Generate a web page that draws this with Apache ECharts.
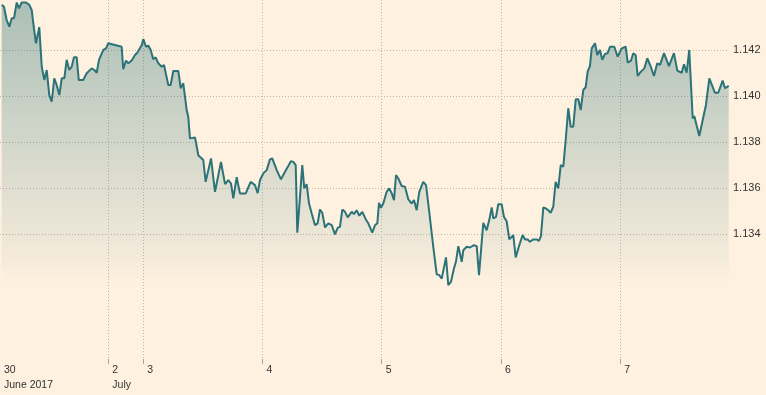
<!DOCTYPE html>
<html>
<head>
<meta charset="utf-8">
<script src="https://cdn.jsdelivr.net/npm/echarts@6/dist/echarts.min.js"></script>
<style>
html,body{margin:0;padding:0;background:#fff1e0;}
#chart{width:766px;height:395px;}
</style>
</head>
<body>
<div id="chart"></div>
<script>
// time in 12-minute steps since 30 June 2017 00:00 (weekend removed)
const times = [
1.7,4.0,6.7,9.4,11.8,14.1,16.8,19.1,21.8,23.4,26.2,29.5,31.9,33.5,36.2,39.5,42.0,44.6,47.0,49.6,
52.0,54.6,57.0,59.7,62.1,64.7,67.1,69.7,72.1,74.4,77.2,79.2,83.8,87.2,88.8,92.2,94.9,97.3,99.6,103.9,
106.6,109.0,122.4,124.0,126.8,129.1,132.5,135.8,138.1,140.1,142.6,144.2,146.9,149.2,151.6,154.2,156.6,159.3,162.7,165.0,
169.3,171.7,174.3,179.4,181.8,184.4,187.8,189.4,191.1,196.2,199.5,204.5,206.9,212.3,216.3,222.3,226.4,229.7,232.4,234.7,
238.1,241.4,247.2,252.2,256.5,259.2,261.6,264.9,268.3,271.6,273.9,278.4,282.7,286.7,290.0,292.7,295.1,297.5,299.1,301.8,
304.1,306.1,308.5,310.9,313.6,316.9,319.6,321.9,324.2,327.0,330.3,333.7,337.0,339.7,342.0,344.4,347.1,349.8,353.8,356.1,
358.8,361.5,364.5,367.9,370.5,372.2,374.5,377.3,379.6,381.3,383.3,385.6,389.0,391.6,394.1,396.4,398.4,400.7,404.1,407.4,
410.8,414.2,416.5,419.2,421.8,425.8,428.6,432.6,435.9,439.3,441.9,444.4,448.7,451.0,453.7,456.7,458.7,461.1,464.5,466.1,
469.5,472.8,474.5,476.8,479.6,481.9,486.2,489.6,492.2,494.7,496.3,499.0,501.3,504.7,507.0,509.7,512.4,516.4,518.8,522.4,
525.8,528.2,530.9,533.2,536.5,539.9,542.2,544.2,546.6,549.0,551.6,554.0,556.6,559.0,561.6,564.1,566.7,569.1,571.7,574.1,
576.7,579.2,581.8,584.2,586.8,589.2,591.2,593.5,595.3,598.6,600.9,603.6,605.9,608.6,611.3,613.7,618.0,621.4,625.4,627.0,
629.5,631.5,634.8,637.1,639.5,641.5,644.8,648.2,651.2,654.9,657.9,661.2,664.0,668.0,673.0,678.0,681.4,685.8,688.1,690.8,
693.4,696.9,698.5,703.5,710.2,713.6,719.3,722.6,727.0,729.4,733.1
];
const values = [
1.14396,1.14388,1.14330,1.14301,1.14338,1.14338,1.14406,1.14381,1.14406,1.14400,1.14406,1.14396,1.14374,1.14316,1.14229,1.14299,1.14127,1.14070,1.14113,1.14004,
1.13975,1.14077,1.14048,1.14004,1.14077,1.14077,1.14157,1.14113,1.14127,1.14168,1.14168,1.14070,1.14070,1.14099,1.14091,1.14120,1.14113,1.14101,1.14157,1.14200,
1.14207,1.14229,1.14214,1.14117,1.14154,1.14142,1.14154,1.14178,1.14188,1.14183,1.14222,1.14247,1.14214,1.14219,1.14200,1.14160,1.14168,1.14142,1.14127,1.14135,
1.14048,1.14048,1.14109,1.14109,1.14034,1.14055,1.13939,1.13910,1.13816,1.13820,1.13743,1.13722,1.13627,1.13729,1.13584,1.13714,1.13617,1.13635,1.13620,1.13555,
1.13647,1.13577,1.13577,1.13627,1.13613,1.13578,1.13635,1.13664,1.13678,1.13725,1.13729,1.13678,1.13638,1.13671,1.13696,1.13717,1.13714,1.13700,1.13406,1.13562,
1.13700,1.13599,1.13617,1.13533,1.13490,1.13439,1.13447,1.13507,1.13493,1.13429,1.13447,1.13439,1.13399,1.13427,1.13432,1.13507,1.13497,1.13473,1.13497,1.13487,
1.13504,1.13480,1.13497,1.13465,1.13447,1.13454,1.13407,1.13439,1.13447,1.13536,1.13514,1.13533,1.13584,1.13599,1.13577,1.13548,1.13657,1.13642,1.13609,1.13606,
1.13551,1.13533,1.13548,1.13504,1.13584,1.13627,1.13613,1.13468,1.13345,1.13226,1.13222,1.13207,1.13299,1.13178,1.13193,1.13251,1.13280,1.13348,1.13280,1.13330,
1.13345,1.13342,1.13338,1.13352,1.13348,1.13222,1.13449,1.13417,1.13461,1.13516,1.13468,1.13475,1.13530,1.13530,1.13475,1.13456,1.13377,1.13396,1.13299,1.13352,
1.13396,1.13377,1.13377,1.13367,1.13377,1.13377,1.13371,1.13391,1.13516,1.13512,1.13504,1.13493,1.13519,1.13627,1.13599,1.13700,1.13693,1.13809,1.13947,1.13867,
1.13867,1.13986,1.13986,1.13939,1.14026,1.14038,1.14106,1.14130,1.14207,1.14229,1.14178,1.14200,1.14157,1.14183,1.14186,1.14214,1.14214,1.14171,1.14207,1.14203,
1.14214,1.14145,1.14154,1.14186,1.14178,1.14087,1.14106,1.14120,1.14164,1.14125,1.14087,1.14142,1.14135,1.14186,1.14130,1.14186,1.14110,1.14101,1.14138,1.14101,
1.14200,1.13903,1.13913,1.13826,1.13961,1.14077,1.14014,1.14014,1.14067,1.14034,1.14044
];
const xTickTimes = [0, 109, 144, 264, 384, 504, 624];
const xTickLabels = ['30\nJune 2017', '2\nJuly', '3', '4', '5', '6', '7'];
const yTicks = [1.134, 1.136, 1.138, 1.140, 1.142];

const chart = echarts.init(document.getElementById('chart'), null, {renderer: 'canvas'});
const seriesData = times.map((t, i) => [t, values[i]]);
// the first day's tick sits on the chart edge and is not drawn
const xGridTimes = xTickTimes.filter(t => t > 0);

chart.setOption({
  backgroundColor: '#fff1e0',
  animation: false,
  textStyle: {fontFamily: '"Liberation Sans", Arial, sans-serif'},
  grid: {left: 0, right: 37, top: 0, bottom: 31, containLabel: false, outerBoundsMode: 'none'},
  xAxis: {
    type: 'value',
    min: 0,
    max: 733.4,
    axisLine: {show: false},
    splitLine: {show: true, lineStyle: {type: [1, 2], color: '#bdb5ac', width: 1}},
    axisTick: {show: true, inside: true, length: 5, customValues: xGridTimes, lineStyle: {color: '#aaa39b', width: 1}},
    axisLabel: {
      customValues: xTickTimes,
      formatter: v => { const k = xTickTimes.indexOf(v); return k >= 0 ? xTickLabels[k] : ''; },
      align: 'left', verticalAlign: 'top', padding: [0, 0, 0, 4],
      margin: -1, fontSize: 10.5, lineHeight: 15, color: '#333'
    }
  },
  yAxis: {
    type: 'value',
    position: 'right',
    min: 1.12836,
    max: 1.14417,
    axisLine: {show: false},
    axisTick: {show: false, customValues: yTicks},
    splitLine: {show: true, lineStyle: {type: [1, 2], color: '#bdb5ac', width: 1}},
    axisLabel: {
      customValues: yTicks,
      formatter: v => v.toFixed(3),
      margin: 4, fontSize: 11, color: '#333'
    }
  },
  series: [
    {
      type: 'line',
      z: 3,
      data: seriesData,
      showSymbol: false,
      symbol: 'none',
      lineStyle: {color: '#2b7378', width: 2},
      areaStyle: {
        origin: 'start',
        opacity: 1,
        color: new echarts.graphic.LinearGradient(0, 0, 0, 364, [
          {offset: 0, color: 'rgba(43,115,120,0.40)'},
          {offset: 0.70, color: 'rgba(43,115,120,0.06)'},
          {offset: 0.78, color: 'rgba(43,115,120,0)'},
          {offset: 1, color: 'rgba(43,115,120,0)'}
        ], true)
      }
    }
  ]
});
</script>
</body>
</html>
